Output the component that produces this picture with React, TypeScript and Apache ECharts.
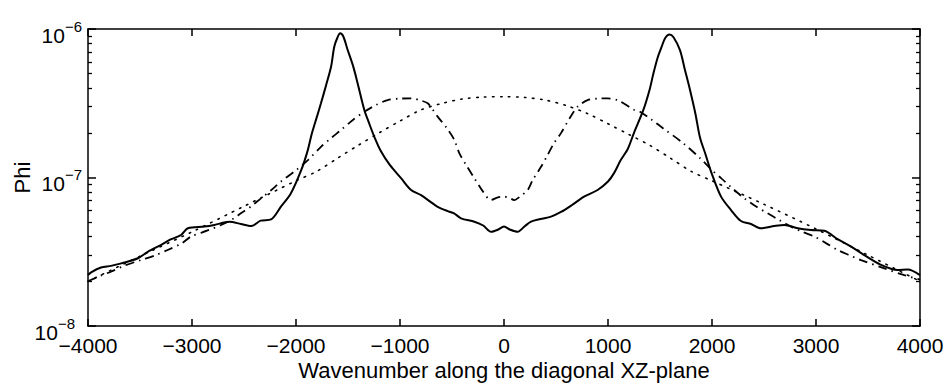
import React, { useEffect, useRef } from "react";
import * as echarts from "echarts";

// ---- data ----
const solidX = [-4000, -3970, -3875, -3780, -3680, -3520, -3425, -3300, -3200, -3105, -3040, -2880, -2785, -2640, -2530, -2430, -2340, -2240, -2145, -2050, -1950, -1890, -1850, -1800, -1760, -1710, -1663, -1632, -1600, -1575, -1545, -1503, -1450, -1407, -1343, -1300, -1247, -1183, -1100, -990, -894, -798, -700, -638, -542, -480, -413, -285, -200, -125, -60, 0, 60, 131, 200, 260, 350, 452, 548, 650, 770, 900, 1000, 1058, 1120, 1189, 1250, 1340, 1400, 1436, 1480, 1516, 1550, 1590, 1630, 1692, 1740, 1788, 1840, 1885, 1935, 1990, 2087, 2183, 2279, 2375, 2471, 2600, 2696, 2824, 2952, 3080, 3208, 3337, 3465, 3625, 3785, 3881, 4000];
const solidY = [2.2e-8, 2.3e-8, 2.48e-8, 2.54e-8, 2.64e-8, 2.86e-8, 3.16e-8, 3.51e-8, 3.84e-8, 4.1e-8, 4.55e-8, 4.67e-8, 4.79e-8, 5.04e-8, 4.86e-8, 4.71e-8, 5.12e-8, 5.22e-8, 6.36e-8, 7.8e-8, 1.12e-7, 1.5e-7, 1.95e-7, 2.55e-7, 3.16e-7, 4.2e-7, 5.57e-7, 7.6e-7, 8.8e-7, 9.35e-7, 8.9e-7, 7.22e-7, 5.6e-7, 4.3e-7, 2.85e-7, 2.35e-7, 1.88e-7, 1.5e-7, 1.22e-7, 9.9e-8, 8.24e-8, 7.6e-8, 6.8e-8, 6.35e-8, 5.94e-8, 5.74e-8, 5.31e-8, 5.04e-8, 4.75e-8, 4.31e-8, 4.45e-8, 4.67e-8, 4.45e-8, 4.31e-8, 4.7e-8, 5.04e-8, 5.25e-8, 5.45e-8, 5.86e-8, 6.5e-8, 7.43e-8, 8.24e-8, 9.4e-8, 1.07e-7, 1.3e-7, 1.55e-7, 2.0e-7, 2.85e-7, 3.9e-7, 5.0e-7, 6.5e-7, 7.6e-7, 8.7e-7, 9.2e-7, 8.8e-7, 7.2e-7, 5.3e-7, 3.9e-7, 2.7e-7, 1.85e-7, 1.45e-7, 1.1e-7, 7.43e-8, 6.04e-8, 5.09e-8, 4.86e-8, 4.55e-8, 4.71e-8, 4.79e-8, 4.55e-8, 4.43e-8, 4.38e-8, 3.84e-8, 3.42e-8, 3.0e-8, 2.58e-8, 2.38e-8, 2.4e-8, 2.2e-8];

const dashDotX = [-4000, -3880, -3780, -3650, -3490, -3350, -3234, -3100, -3010, -2850, -2720, -2600, -2530, -2430, -2337, -2240, -2144, -2000, -1880, -1760, -1660, -1567, -1450, -1343, -1230, -1119, -1000, -894, -800, -734, -690, -638, -550, -477, -430, -360, -285, -200, -125, -60, 0, 50, 99, 160, 228, 276, 356, 420, 480, 548, 630, 708, 804, 900, 997, 1100, 1253, 1308, 1420, 1532, 1724, 1885, 2000, 2087, 2200, 2311, 2420, 2535, 2650, 2760, 2870, 2984, 3100, 3208, 3320, 3433, 3650, 3849, 4000];
const dashDotY = [2.0e-8, 2.18e-8, 2.32e-8, 2.55e-8, 2.78e-8, 3.0e-8, 3.25e-8, 3.6e-8, 4.0e-8, 4.4e-8, 4.79e-8, 5.3e-8, 5.74e-8, 6.4e-8, 7.24e-8, 8.2e-8, 9.4e-8, 1.12e-7, 1.32e-7, 1.61e-7, 1.85e-7, 2.09e-7, 2.45e-7, 2.77e-7, 3.08e-7, 3.32e-7, 3.4e-7, 3.41e-7, 3.3e-7, 3.16e-7, 2.9e-7, 2.57e-7, 2.15e-7, 1.79e-7, 1.46e-7, 1.2e-7, 9.9e-8, 8.0e-8, 7.05e-8, 7.35e-8, 7.43e-8, 7.3e-8, 7.05e-8, 7.5e-8, 8.24e-8, 9.6e-8, 1.18e-7, 1.42e-7, 1.7e-7, 1.99e-7, 2.5e-7, 3.0e-7, 3.32e-7, 3.4e-7, 3.41e-7, 3.3e-7, 2.85e-7, 2.77e-7, 2.45e-7, 2.14e-7, 1.7e-7, 1.35e-7, 1.12e-7, 9.9e-8, 8.4e-8, 7.24e-8, 6.4e-8, 5.74e-8, 5.15e-8, 4.67e-8, 4.3e-8, 4.0e-8, 3.6e-8, 3.25e-8, 3.0e-8, 2.78e-8, 2.45e-8, 2.2e-8, 2.05e-8];

const dottedX = [-4000, -3500, -3000, -2500, -2000, -1800, -1600, -1400, -1200, -1000, -800, -600, -400, -200, 0, 200, 400, 600, 800, 1000, 1200, 1400, 1600, 1800, 2000, 2500, 3000, 3500, 4000];
const dottedY = [2.0e-8, 2.95e-8, 4.3e-8, 6.4e-8, 9.5e-8, 1.1e-7, 1.35e-7, 1.65e-7, 2.0e-7, 2.4e-7, 2.85e-7, 3.15e-7, 3.38e-7, 3.48e-7, 3.5e-7, 3.46e-7, 3.32e-7, 3.05e-7, 2.7e-7, 2.3e-7, 1.95e-7, 1.65e-7, 1.35e-7, 1.1e-7, 9.5e-8, 6.6e-8, 4.5e-8, 3.0e-8, 2.0e-8];

const xMin = -4000;
const xMax = 4000;
const xStep = 1000;
const yMin = 1e-8;
const yMax = 1e-6;
const majorYTicks = [1e-8, 1e-7, 1e-6];
const minorMultipliers = [2, 3, 4, 5, 6, 7, 8, 9];
const decades = [1e-8, 1e-7];

const xName = "Wavenumber along the diagonal XZ-plane";
const yName = "Phi";

const FONT = "'Liberation Sans', Arial, Helvetica, sans-serif";

export default function App() {
  const ref = useRef<HTMLDivElement>(null);

  useEffect(() => {
    if (!ref.current) return;
    const chart = echarts.init(ref.current, undefined, { renderer: "svg" });

    const pairs = (xs: number[], ys: number[]) => xs.map((x, i) => [x, ys[i]]);
    const minorYTicks: number[] = [];
    decades.forEach((d) => minorMultipliers.forEach((m) => minorYTicks.push(m * d)));

    const black = "#000";
    const lineW = 1.5;

    const xBase = {
      type: "value",
      min: xMin,
      max: xMax,
      interval: xStep,
      splitLine: { show: false },
      axisTick: { show: true, inside: true, length: 7, lineStyle: { color: black, width: lineW } },
    };

    const yBase = {
      type: "log",
      logBase: 10,
      min: yMin,
      max: yMax,
      splitLine: { show: false },
      minorTick: { show: false },
    };

    const majorTick = {
      show: true,
      inside: true,
      length: 8,
      customValues: majorYTicks,
      lineStyle: { color: black, width: lineW },
    };
    const minorTick = {
      show: true,
      inside: true,
      length: 4,
      customValues: minorYTicks,
      lineStyle: { color: black, width: 1.3 },
    };

    const shownLine = { show: true, onZero: false, lineStyle: { color: black, width: lineW } };
    const hiddenLine = { show: false, onZero: false };

    const baseStyle = {
      fontSize: 21,
      lineHeight: 21,
      fontFamily: FONT,
      color: black,
      verticalAlign: "top",
      padding: [6, 0, 0, 0],
    };
    const supStyle = {
      fontSize: 15,
      lineHeight: 15,
      fontFamily: FONT,
      color: black,
      verticalAlign: "top",
      padding: [0, 0, 27, 0],
    };

    chart.setOption({
      animation: false,
      backgroundColor: "#fff",
      grid: { left: 88, right: 29, top: 29, bottom: 65, containLabel: false, outerBoundsMode: "none" },
      xAxis: [
        {
          ...xBase,
          position: "bottom",
          axisLabel: {
            show: true,
            color: black,
            fontSize: 21,
            lineHeight: 21,
            fontFamily: FONT,
            margin: 8.5,
            formatter: (v: number) => String(v).replace("-", "\u2212"),
          },
          axisLine: shownLine,
          name: xName,
          nameLocation: "middle",
          nameGap: 33,
          nameMoveOverlap: false,
          nameTextStyle: { color: black, fontSize: 22, lineHeight: 22, fontFamily: FONT },
        },
        {
          ...xBase,
          position: "top",
          axisLine: shownLine,
          axisLabel: { show: false },
        },
      ],
      yAxis: [
        {
          ...yBase,
          position: "left",
          axisLine: shownLine,
          axisTick: majorTick,
          axisLabel: {
            show: true,
            customValues: majorYTicks,
            margin: 6,
            formatter: (v: number) => {
              const e = Math.round(Math.log10(v));
              // the lowest label sits next to the first x label, so it keeps a little extra gap
              const sup = v <= yMin * 1.0001 ? "sl" : "s";
              return `{b|10}{${sup}|\u2212${Math.abs(e)}}`;
            },
            rich: {
              b: baseStyle,
              s: supStyle,
              sl: { ...supStyle, padding: [0, 7, 27, 0] },
            },
          },
          name: yName,
          nameLocation: "middle",
          nameGap: 55,
          nameMoveOverlap: false,
          nameTextStyle: { color: black, fontSize: 22, fontFamily: FONT },
        },
        {
          ...yBase,
          position: "left",
          axisLine: hiddenLine,
          axisTick: minorTick,
          axisLabel: { show: false },
        },
        {
          ...yBase,
          position: "right",
          axisLine: shownLine,
          axisTick: majorTick,
          axisLabel: { show: false },
        },
        {
          ...yBase,
          position: "right",
          axisLine: hiddenLine,
          axisTick: minorTick,
          axisLabel: { show: false },
        },
      ],
      series: [
        {
          type: "line",
          xAxisIndex: 0,
          yAxisIndex: 0,
          data: pairs(dottedX, dottedY),
          showSymbol: false,
          symbol: "none",
          smooth: 0.3,
          lineStyle: { color: black, width: 1.6, type: [1.5, 6.5], cap: "round" },
          z: 2,
        },
        {
          type: "line",
          xAxisIndex: 0,
          yAxisIndex: 0,
          data: pairs(dashDotX, dashDotY),
          showSymbol: false,
          symbol: "none",
          smooth: 0.3,
          lineStyle: { color: black, width: 1.8, type: [9, 5, 1.5, 5] },
          z: 3,
        },
        {
          type: "line",
          xAxisIndex: 0,
          yAxisIndex: 0,
          data: pairs(solidX, solidY),
          showSymbol: false,
          symbol: "none",
          smooth: 0.3,
          lineStyle: { color: black, width: 2 },
          z: 4,
        },
      ],
    });

    return () => chart.dispose();
  }, []);

  return (
    <div
      ref={ref}
      style={{ position: "absolute", left: 0, top: 0, width: 949, height: 391, background: "#fff" }}
    />
  );
}
